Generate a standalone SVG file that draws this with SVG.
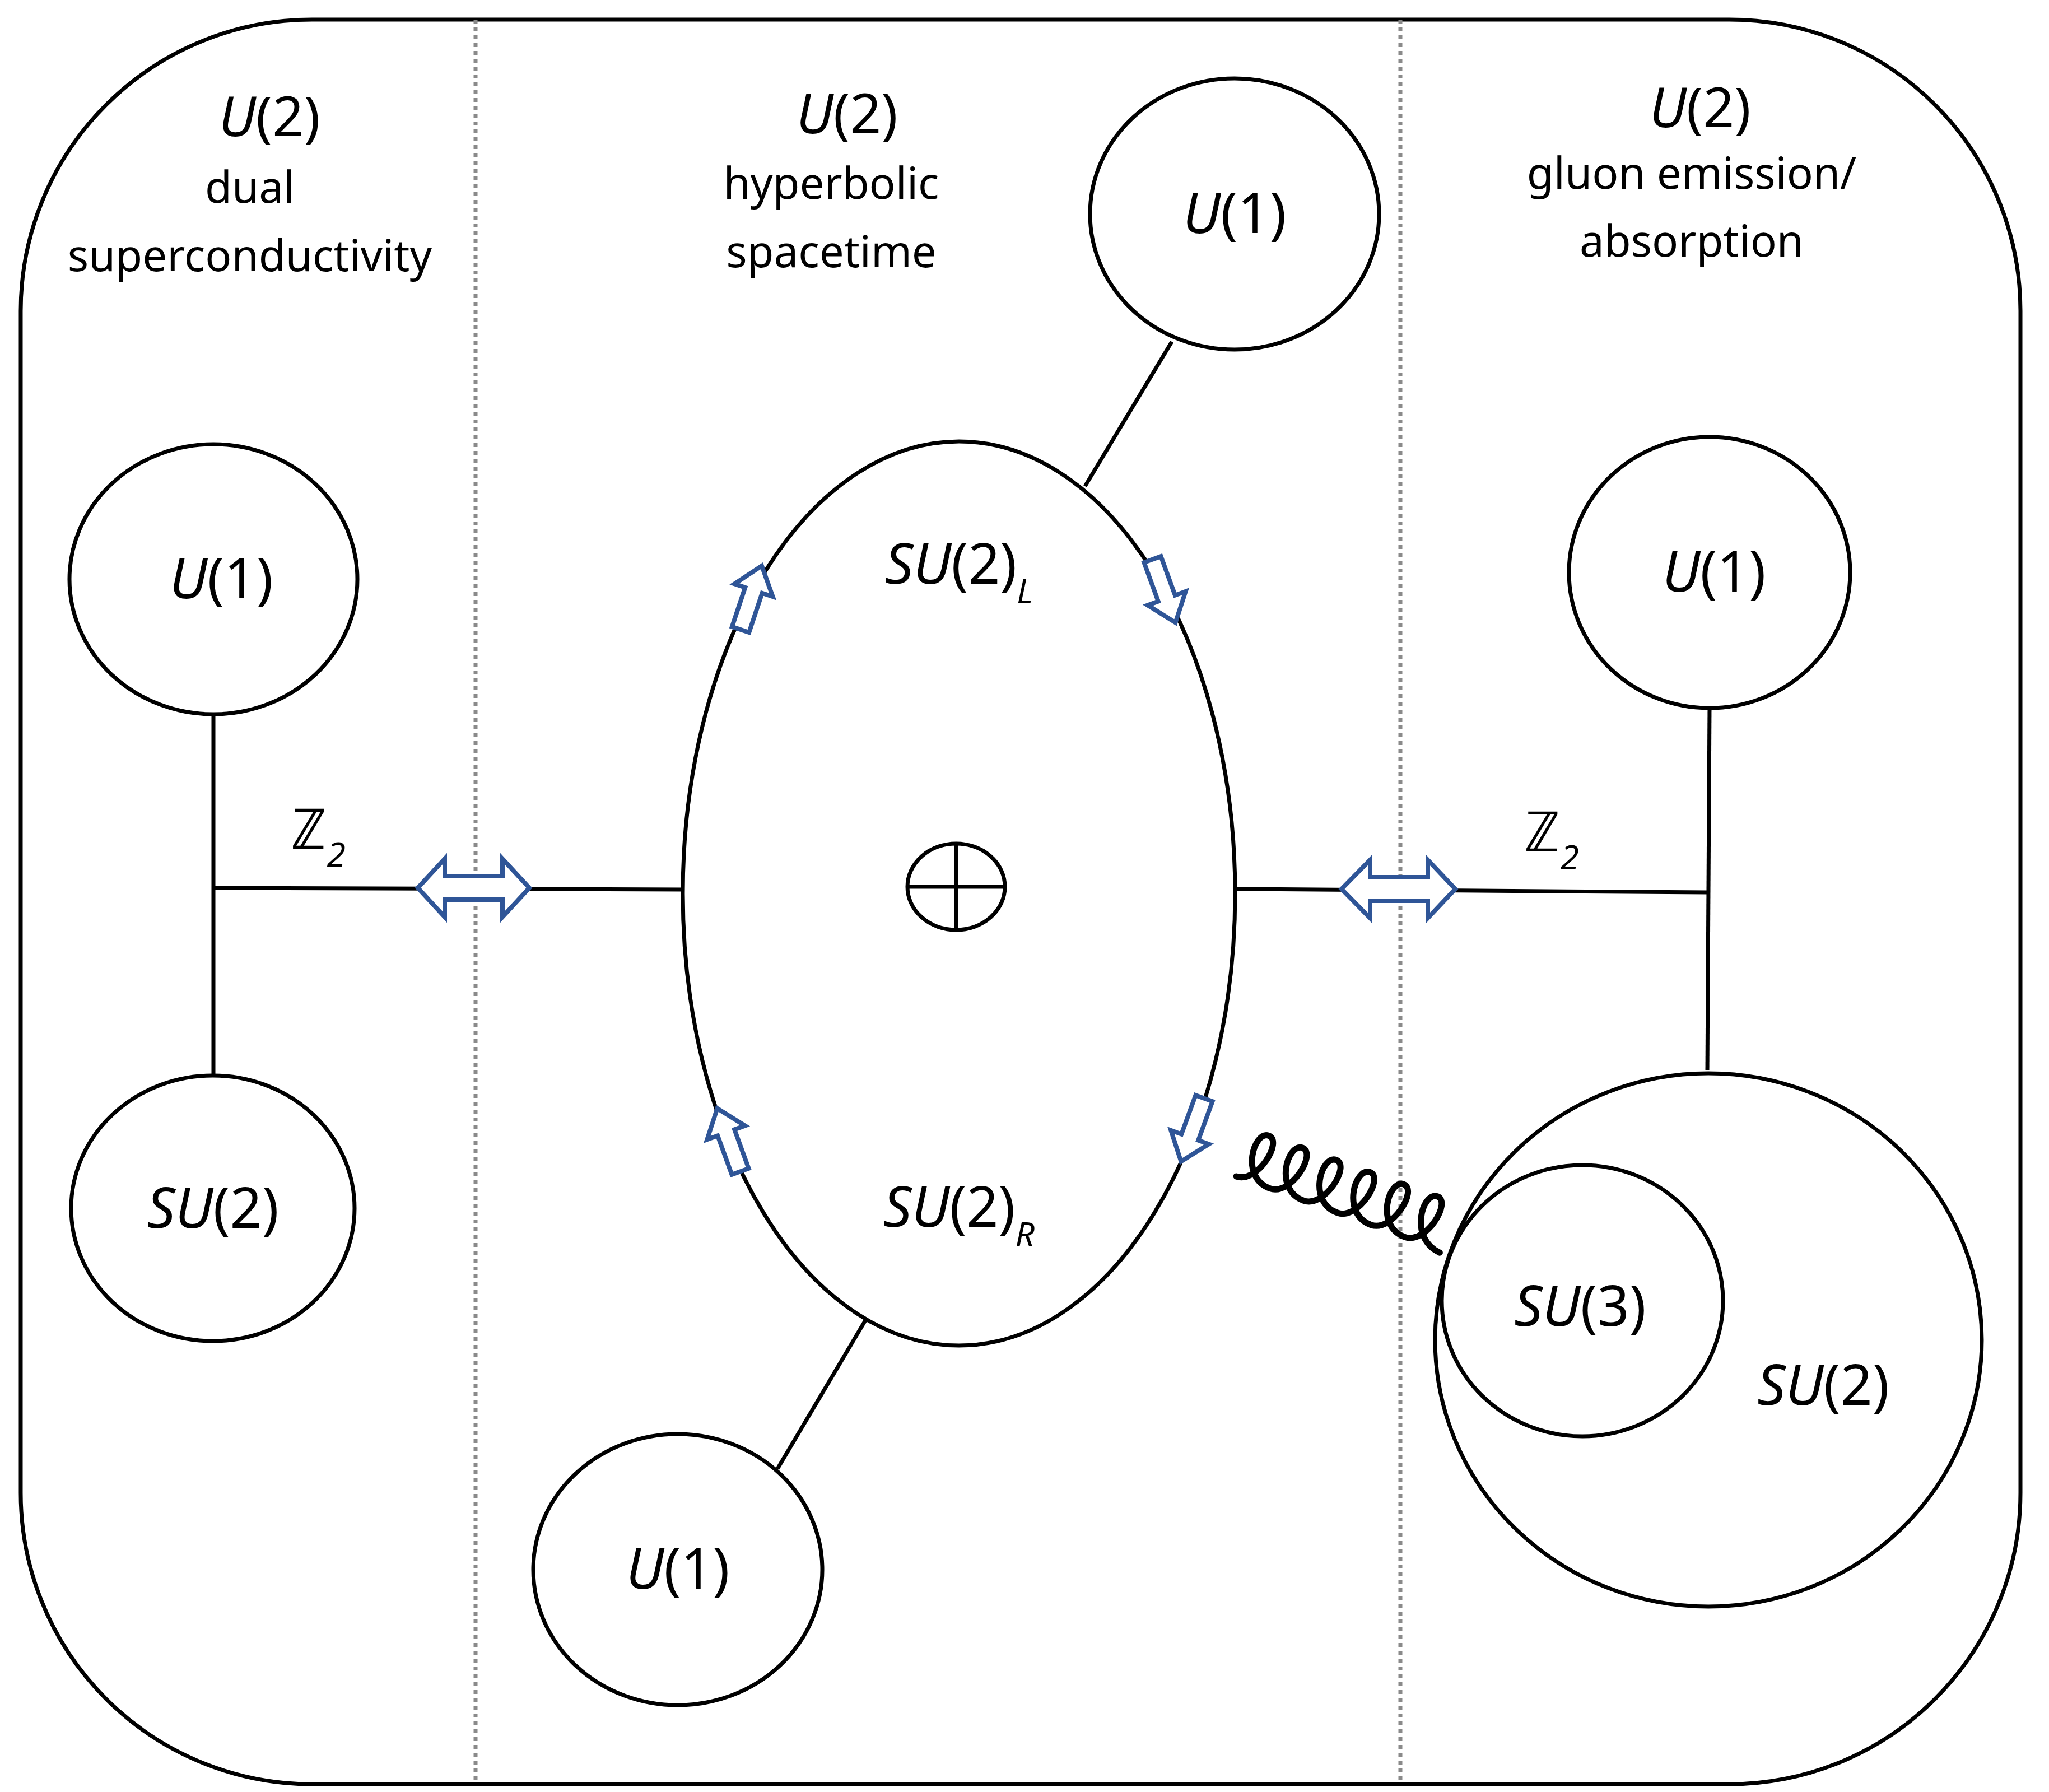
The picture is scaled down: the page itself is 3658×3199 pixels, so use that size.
<svg xmlns="http://www.w3.org/2000/svg" width="3658" height="3199" viewBox="0 0 3658 3199">
<style>
.s{fill:none;stroke:#000;stroke-width:7}
.n{fill:#fff;stroke:#000;stroke-width:7}
.d{stroke:#8a8a8a;stroke-width:7;stroke-dasharray:7 7;fill:none}
.a{fill:#fff;stroke:#2F5597;stroke-width:8;stroke-linejoin:miter}
text{font-family:"Noto Sans","Open Sans",sans-serif;fill:#000;text-anchor:middle}
.h{font-size:98px;font-style:italic}
.b{font-size:78px}
.l{font-size:100px;font-style:italic}
.sub{font-size:60px;font-style:italic}
</style>
<defs>
<polygon id="ar" points="-60,-16 14,-16 14,-36 60,0 14,36 14,16 -60,16"/>
</defs>
<rect x="37" y="35" width="3570" height="3150" rx="520" ry="520" class="s"/>
<line x1="849" y1="35" x2="849" y2="3185" class="d"/>
<line x1="2500" y1="35" x2="2500" y2="3185" class="d"/>
<g id="headers">
<text x="481" y="243" class="h">U<tspan font-style="normal">(2)</tspan></text>
<text x="446" y="362" class="b">dual</text>
<text x="446" y="484" class="b">superconductivity</text>
<text x="1512" y="238" class="h">U<tspan font-style="normal">(2)</tspan></text>
<text x="1484" y="355" class="b">hyperbolic</text>
<text x="1484" y="477" class="b">spacetime</text>
<text x="3035" y="227" class="h">U<tspan font-style="normal">(2)</tspan></text>
<text x="3020" y="337" class="b">gluon emission/</text>
<text x="3020" y="458" class="b">absorption</text>
</g>
<g id="connectors">
<line x1="381" y1="1276" x2="381" y2="1918" class="s"/>
<line x1="381" y1="1585" x2="1219" y2="1588" class="s"/>
<line x1="2207" y1="1587" x2="3050" y2="1593" class="s"/>
<line x1="3052" y1="1266" x2="3048" y2="1911" class="s"/>
<line x1="2092" y1="610" x2="1937" y2="868" class="s"/>
<line x1="1388" y1="2622" x2="1545" y2="2357" class="s"/>
<polygon class="a" points="746,1585 794,1533 794,1564 897,1564 897,1533 945,1585 897,1637 897,1606 794,1606 794,1637"/>
<polygon class="a" points="2395,1587 2446,1535 2446,1566 2549,1566 2549,1535 2598,1587 2549,1639 2549,1608 2446,1608 2446,1639"/>
<path transform="translate(2207,2100) rotate(19.8)" fill="none" stroke="#000" stroke-width="11" stroke-linecap="round" d="M0,0 C40,0 58,-88 30,-88 C2,-88 6,0 64,0 C104,0 122,-88 94,-88 C66,-88 70,0 128,0 C168,0 186,-88 158,-88 C130,-88 134,0 192,0 C232,0 250,-88 222,-88 C194,-88 198,0 256,0 C296,0 314,-88 286,-88 C258,-88 262,0 320,0 C360,0 378,-88 350,-88 C322,-88 326,0 388,5"/>
</g>
<g id="left-u1"><ellipse cx="381" cy="1034" rx="257" ry="241" class="n"/><text x="395" y="1068" class="l">U<tspan font-style="normal">(1)</tspan></text></g>
<g id="left-su2"><ellipse cx="380" cy="2157" rx="253" ry="237" class="n"/><text x="380" y="2192" class="l">SU<tspan font-style="normal">(2)</tspan></text></g>
<text x="568" y="1515" class="l" font-style="normal">ℤ<tspan class="sub" dy="32">2</tspan></text>
<g id="center">
<ellipse cx="1712" cy="1595" rx="493" ry="807" class="n"/>
<text x="1712" y="1042" class="l">SU<tspan font-style="normal">(2)</tspan><tspan class="sub" dy="35">L</tspan></text>
<text x="1712" y="2190" class="l">SU<tspan font-style="normal">(2)</tspan><tspan class="sub" dy="35">R</tspan></text>
<g id="oplus"><ellipse cx="1707" cy="1583" rx="87" ry="77" class="s"/><line x1="1620" y1="1583" x2="1794" y2="1583" class="s"/><line x1="1707" y1="1506" x2="1707" y2="1660" class="s"/></g>
<use href="#ar" class="a" transform="translate(1341,1067) rotate(-71.6)"/>
<use href="#ar" class="a" transform="translate(2078,1055) rotate(70)"/>
<use href="#ar" class="a" transform="translate(1301,2035) rotate(-110)"/>
<use href="#ar" class="a" transform="translate(2129,2017) rotate(110)"/>
</g>
<g id="top-u1"><ellipse cx="2204" cy="382" rx="258" ry="242" class="n"/><text x="2204" y="416" class="l">U<tspan font-style="normal">(1)</tspan></text></g>
<g id="bottom-u1"><ellipse cx="1210" cy="2802" rx="258" ry="242" class="n"/><text x="1210" y="2836" class="l">U<tspan font-style="normal">(1)</tspan></text></g>
<g id="right-u1"><ellipse cx="3052" cy="1022" rx="251" ry="242" class="n"/><text x="3060" y="1056" class="l">U<tspan font-style="normal">(1)</tspan></text></g>
<text x="2770" y="1520" class="l" font-style="normal">ℤ<tspan class="sub" dy="32">2</tspan></text>
<g id="right-su2"><ellipse cx="3050" cy="2392" rx="488" ry="476" class="n"/><text x="3255" y="2508" class="l">SU<tspan font-style="normal">(2)</tspan></text></g>
<g id="su3"><ellipse cx="2825" cy="2322" rx="251" ry="242" class="n"/><text x="2821" y="2367" class="l">SU<tspan font-style="normal">(3)</tspan></text></g>
</svg>
